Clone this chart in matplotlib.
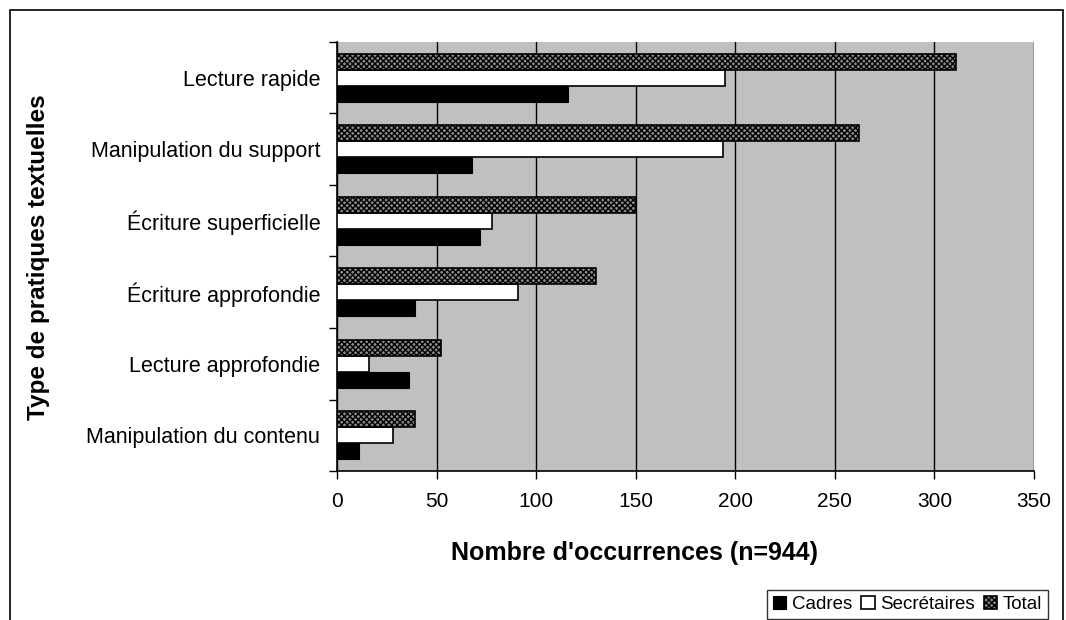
import numpy as np
import matplotlib
matplotlib.use('Agg')
import matplotlib.pyplot as plt
from matplotlib.patches import Rectangle

plt.rcParams['font.family'] = ['Liberation Sans', 'DejaVu Sans']
plt.rcParams['hatch.linewidth'] = 1.0

# categories listed bottom to top
categories = ['Manipulation du contenu', 'Lecture approfondie', 'Écriture approfondie',
              'Écriture superficielle', 'Manipulation du support', 'Lecture rapide']
cadres = [11, 36, 39, 72, 68, 116]
secretaires = [28, 16, 91, 78, 194, 195]
total = [39, 52, 130, 150, 262, 311]
xticks = [0, 50, 100, 150, 200, 250, 300, 350]

fig = plt.figure(figsize=(10.66, 6.2), dpi=100)
ax = fig.add_axes([0.3161, 0.2403, 0.6539, 0.692])
ax.set_facecolor('#c0c0c0')

y = np.arange(len(categories))
h = 0.224

ax.barh(y - h, cadres, height=h, color='black', edgecolor='black', linewidth=0.8,
        label='Cadres', zorder=3)
ax.barh(y, secretaires, height=h, color='white', edgecolor='black', linewidth=1.2,
        label='Secrétaires', zorder=3)
ax.barh(y + h, total, height=h, color='#8a8a8a', edgecolor='black', hatch='xxxxxx',
        linewidth=1.2, label='Total', zorder=3)

ax.set_xlim(0, 350)
ax.set_ylim(-0.5, len(categories) - 0.5)
ax.set_xticks(xticks)
ax.xaxis.grid(True, color='black', linewidth=1.0, zorder=1)
ax.tick_params(axis='x', direction='out', length=6, width=1, pad=9, labelsize=15)

# category names at the centres, tick marks at the boundaries
ax.set_yticks(y)
ax.set_yticklabels(categories)
ax.set_yticks(np.arange(-0.5, len(categories), 1), minor=True)
ax.tick_params(axis='y', which='major', length=0, pad=12, labelsize=15.5)
ax.tick_params(axis='y', which='minor', direction='out', length=6, width=1)

for side in ['top', 'right']:
    ax.spines[side].set_visible(False)
for side in ['left', 'bottom']:
    ax.spines[side].set_linewidth(1.2)

ax.set_xlabel("Nombre d'occurrences (n=944)", fontsize=18, fontweight='bold',
              va='center')
ax.xaxis.set_label_coords(0.4275, -0.191)
fig.text(0.036, 0.585, 'Type de pratiques textuelles', rotation=90, fontsize=17.5,
         fontweight='bold', ha='center', va='center')

leg = fig.legend(loc='lower right', bbox_to_anchor=(0.983, 0.002), ncol=3,
                 fontsize=13.5, frameon=True, fancybox=False, edgecolor='black',
                 handlelength=0.7, handleheight=0.7, handletextpad=0.3,
                 columnspacing=0.5, borderpad=0.3, borderaxespad=0)
leg.get_frame().set_linewidth(1.0)

# outer chart border, running off the bottom edge
fig.add_artist(Rectangle((10 / 1066, -0.2), 1053 / 1066, 1.2 - 10 / 620,
                         transform=fig.transFigure, fill=False,
                         edgecolor='black', linewidth=1.2))

fig.savefig('out.png', dpi=100)
